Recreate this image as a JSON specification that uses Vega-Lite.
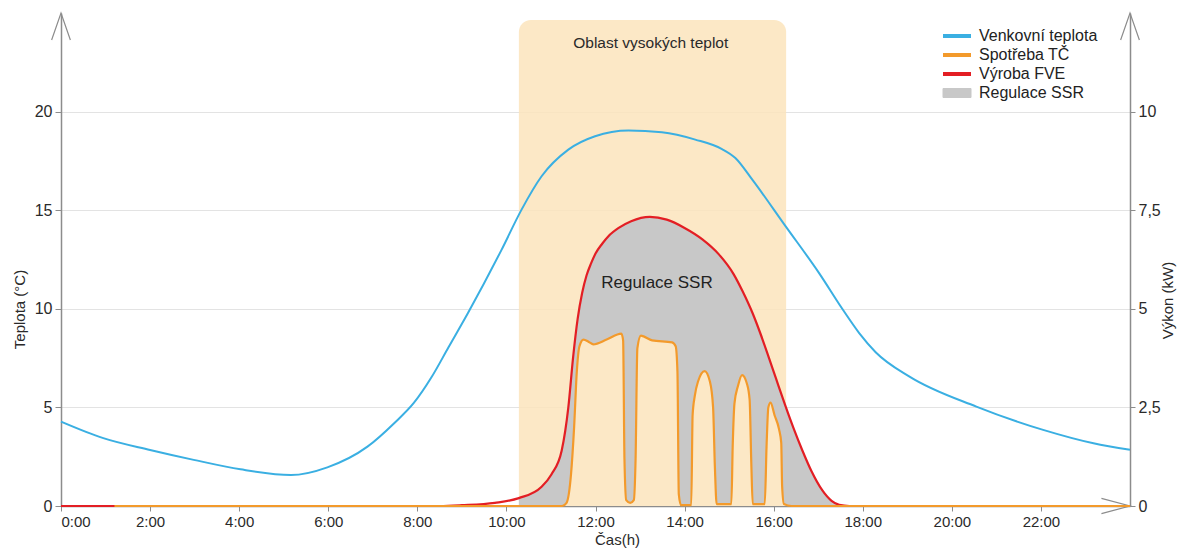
{
  "$schema": "https://vega.github.io/schema/vega-lite/v6.json",
  "width": 1069,
  "height": 493,
  "autosize": {"type": "none"},
  "padding": {"left": 61, "top": 13, "right": 49, "bottom": 44},
  "background": "white",
  "config": {
    "view": {"stroke": null},
    "font": "Liberation Sans",
    "axis": {
      "labelFont": "Liberation Sans",
      "titleFont": "Liberation Sans",
      "labelFontSize": 15,
      "titleFontSize": 15,
      "labelColor": "#2a2a2a",
      "titleColor": "#2a2a2a",
      "titleFontWeight": "normal",
      "domainColor": "#8c8c8c",
      "domainWidth": 1.5,
      "tickColor": "#8c8c8c",
      "tickWidth": 1,
      "gridColor": "#e3e3e3",
      "gridWidth": 1
    }
  },
  "datasets": {
    "one": [{"k": 1}],
    "temp": [
      {"t": 0, "v": 4.28}, {"t": 0.95, "v": 3.44}, {"t": 2, "v": 2.84}, {"t": 2.98, "v": 2.34},
      {"t": 4.03, "v": 1.86}, {"t": 5.16, "v": 1.57}, {"t": 5.98, "v": 1.96}, {"t": 6.88, "v": 3.01},
      {"t": 7.48, "v": 4.2}, {"t": 7.93, "v": 5.25}, {"t": 8.31, "v": 6.5}, {"t": 8.7, "v": 8.05}, {"t": 9.14, "v": 9.8},
      {"t": 9.89, "v": 12.99}, {"t": 10.34, "v": 15.03}, {"t": 10.79, "v": 16.72}, {"t": 11.39, "v": 18.07},
      {"t": 11.99, "v": 18.75}, {"t": 12.74, "v": 19.04}, {"t": 13.49, "v": 18.95}, {"t": 14.24, "v": 18.58},
      {"t": 14.84, "v": 18.1}, {"t": 15.14, "v": 17.65}, {"t": 15.52, "v": 16.55}, {"t": 16.27, "v": 14.18},
      {"t": 17.02, "v": 11.81}, {"t": 17.54, "v": 10.0}, {"t": 17.92, "v": 8.77}, {"t": 18.29, "v": 7.8},
      {"t": 19.05, "v": 6.56}, {"t": 20.55, "v": 5.04}, {"t": 22.05, "v": 3.86}, {"t": 23.18, "v": 3.18},
      {"t": 24, "v": 2.85}
    ],
    "fve": [
      {"t": 0, "f": 0}, {"t": 8.5, "f": 0}, {"t": 9.0, "f": 0.02}, {"t": 9.74, "f": 0.08},
      {"t": 10.28, "f": 0.2}, {"t": 10.79, "f": 0.49}, {"t": 11.01, "f": 0.8}, {"t": 11.24, "f": 1.4},
      {"t": 11.39, "f": 2.5}, {"t": 11.5, "f": 3.8}, {"t": 11.6, "f": 4.75}, {"t": 11.7, "f": 5.4}, {"t": 11.8, "f": 5.85},
      {"t": 11.9, "f": 6.15}, {"t": 12.0, "f": 6.4}, {"t": 12.15, "f": 6.65}, {"t": 12.29, "f": 6.84}, {"t": 12.52, "f": 7.05}, {"t": 12.8, "f": 7.22},
      {"t": 13.22, "f": 7.33}, {"t": 13.6, "f": 7.26}, {"t": 14.0, "f": 7.05}, {"t": 14.4, "f": 6.76},
      {"t": 14.77, "f": 6.38}, {"t": 15.1, "f": 5.88}, {"t": 15.3, "f": 5.45}, {"t": 15.53, "f": 4.88},
      {"t": 15.7, "f": 4.38}, {"t": 15.89, "f": 3.77}, {"t": 16.05, "f": 3.24}, {"t": 16.26, "f": 2.55},
      {"t": 16.45, "f": 1.96}, {"t": 16.64, "f": 1.42}, {"t": 16.85, "f": 0.88}, {"t": 17.09, "f": 0.4},
      {"t": 17.3, "f": 0.13}, {"t": 17.47, "f": 0.03}, {"t": 17.7, "f": 0}, {"t": 24, "f": 0}
    ],
    "tc": [
      {"t": 1.2, "c": 0}, {"t": 11.25, "c": 0}, {"t": 11.35, "c": 0.08}, {"t": 11.45, "c": 0.8},
      {"t": 11.52, "c": 2.0}, {"t": 11.58, "c": 3.4}, {"t": 11.64, "c": 4.05}, {"t": 11.73, "c": 4.22},
      {"t": 11.85, "c": 4.16}, {"t": 11.95, "c": 4.1}, {"t": 12.25, "c": 4.22}, {"t": 12.58, "c": 4.37},
      {"t": 12.62, "c": 4.2}, {"t": 12.65, "c": 1.2}, {"t": 12.69, "c": 0.15}, {"t": 12.78, "c": 0.08},
      {"t": 12.86, "c": 0.15}, {"t": 12.9, "c": 1.2}, {"t": 12.94, "c": 4.0}, {"t": 13.02, "c": 4.32},
      {"t": 13.08, "c": 4.3}, {"t": 13.27, "c": 4.2}, {"t": 13.72, "c": 4.15}, {"t": 13.8, "c": 4.05},
      {"t": 13.84, "c": 3.4}, {"t": 13.87, "c": 0.3}, {"t": 13.92, "c": 0.02}, {"t": 14.15, "c": 0.02},
      {"t": 14.18, "c": 2.3}, {"t": 14.23, "c": 2.8}, {"t": 14.3, "c": 3.15}, {"t": 14.45, "c": 3.42},
      {"t": 14.57, "c": 3.15}, {"t": 14.64, "c": 2.5}, {"t": 14.68, "c": 1.0}, {"t": 14.72, "c": 0.05},
      {"t": 15.05, "c": 0.05}, {"t": 15.08, "c": 1.5}, {"t": 15.12, "c": 2.6}, {"t": 15.2, "c": 3.05},
      {"t": 15.29, "c": 3.32}, {"t": 15.4, "c": 3.1}, {"t": 15.46, "c": 2.7}, {"t": 15.5, "c": 1.0},
      {"t": 15.53, "c": 0.05}, {"t": 15.8, "c": 0.05}, {"t": 15.84, "c": 1.5}, {"t": 15.88, "c": 2.5},
      {"t": 15.93, "c": 2.62}, {"t": 16.02, "c": 2.3}, {"t": 16.12, "c": 1.95}, {"t": 16.17, "c": 1.6},
      {"t": 16.19, "c": 0.5}, {"t": 16.23, "c": 0.05}, {"t": 16.4, "c": 0}, {"t": 24, "c": 0}
    ]
  },
  "layer": [
    {
      "layer": [
        {
          "data": {"name": "one"},
          "mark": {"type": "rect", "fill": "#FBE4BC", "opacity": 0.85, "cornerRadiusTopLeft": 12, "cornerRadiusTopRight": 12},
          "encoding": {
            "x": {"datum": 10.28, "type": "quantitative", "title": "Čas(h)", "scale": {"domain": [0, 24], "nice": false, "zero": false},
              "axis": {
                "values": [0, 2, 4, 6, 8, 10, 12, 14, 16, 18, 20, 22],
                "labelExpr": "datum.value + ':00'",
                "labelFlush": true,
                "tickSize": 5,
                "labelPadding": 3,
                "zindex": 0,
                "title": "Čas(h)",
                "titleX": 556,
                "titleY": 33,
                "titleBaseline": "middle",
                "titleAlign": "center",
                "grid": false
              }
            },
            "x2": {"datum": 16.28},
            "y": {"datum": 0, "type": "quantitative", "title": "Teplota (°C)", "scale": {"domain": [0, 25], "nice": false},
              "axis": {
                "values": [0, 5, 10, 15, 20],
                "grid": true,
                "tickSize": 6,
                "labelPadding": 3,
                "labelFontSize": 16,
                "title": "Teplota (°C)",
                "titleAngle": -90,
                "titleX": -42,
                "titleY": 296,
                "titleAlign": "center",
                "titleBaseline": "middle"
              }
            },
            "y2": {"datum": 24.64}
          }
        },
        {
          "data": {"name": "one"},
          "mark": {"type": "text", "fontSize": 15.5, "color": "#2a2a2a", "font": "Liberation Sans"},
          "encoding": {
            "x": {"datum": 13.24, "type": "quantitative", "title": "Čas(h)"},
            "y": {"datum": 23.46, "type": "quantitative", "title": "Teplota (°C)"},
            "text": {"value": "Oblast vysokých teplot"}
          }
        },
        {
          "data": {"name": "temp"},
          "mark": {"type": "line", "interpolate": "monotone", "strokeWidth": 2},
          "encoding": {
            "x": {"field": "t", "type": "quantitative", "title": "Čas(h)"},
            "y": {"field": "v", "type": "quantitative", "title": "Teplota (°C)"},
            "color": {
              "datum": "Venkovní teplota",
              "scale": {
                "domain": ["Venkovní teplota", "Spotřeba TČ", "Výroba FVE", "Regulace SSR"],
                "range": ["#3AAFE2", "#F39A2B", "#E31E24", "#C8C8C8"]
              },
              "legend": {
                "orient": "none",
                "legendX": 879,
                "legendY": 15,
                "title": null,
                "padding": 0,
                "labelFontSize": 16,
                "labelFont": "Liberation Sans",
                "labelColor": "#222",
                "symbolSize": 100,
                "labelOffset": 23,
                "rowPadding": 3,
                "encode": {
                  "symbols": {
                    "update": {
                      "shape": {"signal": "datum.value === 'Regulace SSR' ? 'M-1,-0.9H4.6V0.9H-1Z' : 'M-1,0H4.6'"},
                      "size": {"value": 100},
                      "stroke": {"signal": "datum.value === 'Venkovní teplota' ? '#3AAFE2' : datum.value === 'Spotřeba TČ' ? '#F39A2B' : datum.value === 'Výroba FVE' ? '#E31E24' : '#666666'"},
                      "strokeWidth": {"signal": "datum.value === 'Regulace SSR' ? 1 : 4"},
                      "fill": {"signal": "datum.value === 'Regulace SSR' ? '#C8C8C8' : 'transparent'"},
                      "opacity": {"value": 1},
                      "fillOpacity": {"value": 1},
                      "strokeOpacity": {"value": 1}
                    }
                  }
                }
              }
            }
          }
        },
        {
          "data": {"name": "one"},
          "mark": {"type": "point", "shape": "M-0.67,1.93L0,0L0.67,1.93", "size": 784, "filled": false, "stroke": "#8c8c8c", "strokeWidth": 1.2, "opacity": 1},
          "encoding": {"x": {"datum": 0, "type": "quantitative", "title": "Čas(h)"}, "y": {"datum": 25, "type": "quantitative", "title": "Teplota (°C)"}}
        },
        {
          "data": {"name": "one"},
          "mark": {"type": "point", "shape": "M-0.67,1.93L0,0L0.67,1.93", "size": 784, "filled": false, "stroke": "#8c8c8c", "strokeWidth": 1.2, "opacity": 1},
          "encoding": {"x": {"datum": 24, "type": "quantitative", "title": "Čas(h)"}, "y": {"datum": 25, "type": "quantitative", "title": "Teplota (°C)"}}
        },
        {
          "data": {"name": "one"},
          "mark": {"type": "point", "shape": "M-2.04,-0.54L0,0L-2.04,0.54", "size": 784, "filled": false, "stroke": "#8c8c8c", "strokeWidth": 1.2, "opacity": 1},
          "encoding": {"x": {"datum": 24, "type": "quantitative", "title": "Čas(h)"}, "y": {"datum": 0, "type": "quantitative", "title": "Teplota (°C)"}}
        }
      ]
    },
    {
      "layer": [
        {
          "data": {"name": "fve"},
          "transform": [{"filter": "datum.t >= 10.28"}],
          "mark": {"type": "area", "interpolate": "monotone", "opacity": 1},
          "encoding": {
            "x": {"field": "t", "type": "quantitative", "title": "Čas(h)"},
            "y": {"field": "f", "type": "quantitative", "title": "Výkon (kW)", "scale": {"domain": [0, 12.5], "nice": false},
              "axis": {
                "orient": "right",
                "values": [0, 2.5, 5, 7.5, 10],
                "labelExpr": "replace(toString(datum.value), '.', ',')",
                "grid": false,
                "tickSize": 5,
                "labelPadding": 3,
                "labelFontSize": 16,
                "title": "Výkon (kW)",
                "titleAngle": -90,
                "titleX": 37,
                "titleY": 287,
                "titleAlign": "center",
                "titleBaseline": "middle"
              }
            },
            "color": {"datum": "Regulace SSR"}
          }
        },
        {
          "data": {"name": "tc"},
          "mark": {"type": "area", "interpolate": "monotone", "fill": "#FCE8C6", "opacity": 1},
          "encoding": {
            "x": {"field": "t", "type": "quantitative", "title": "Čas(h)"},
            "y": {"field": "c", "type": "quantitative", "title": "Výkon (kW)"}
          }
        },
        {
          "data": {"name": "fve"},
          "mark": {"type": "line", "interpolate": "monotone", "strokeWidth": 2.2},
          "encoding": {
            "x": {"field": "t", "type": "quantitative", "title": "Čas(h)"},
            "y": {"field": "f", "type": "quantitative", "title": "Výkon (kW)"},
            "color": {"datum": "Výroba FVE"}
          }
        },
        {
          "data": {"name": "tc"},
          "mark": {"type": "line", "interpolate": "monotone", "strokeWidth": 2.2},
          "encoding": {
            "x": {"field": "t", "type": "quantitative", "title": "Čas(h)"},
            "y": {"field": "c", "type": "quantitative", "title": "Výkon (kW)"},
            "color": {"datum": "Spotřeba TČ"}
          }
        },
        {
          "data": {"name": "one"},
          "mark": {"type": "text", "fontSize": 17, "color": "#222", "font": "Liberation Sans"},
          "encoding": {
            "x": {"datum": 13.38, "type": "quantitative", "title": "Čas(h)"},
            "y": {"datum": 5.65, "type": "quantitative", "title": "Výkon (kW)"},
            "text": {"value": "Regulace SSR"}
          }
        }
      ]
    }
  ],
  "resolve": {"scale": {"y": "independent"}}
}
